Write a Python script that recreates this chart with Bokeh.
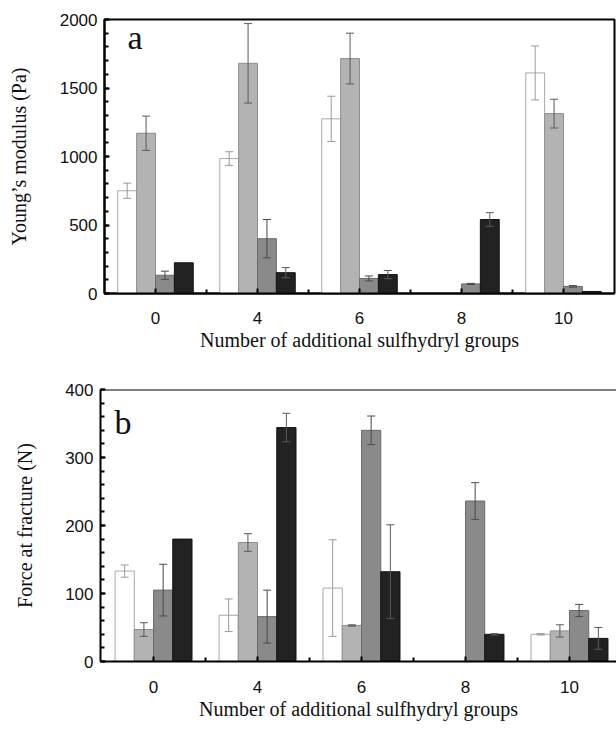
import numpy as np
from bokeh.plotting import figure
from bokeh.models import ColumnDataSource, Whisker, TeeHead, FixedTicker, Label, Span, Range1d
from bokeh.embed import file_html
from bokeh.resources import INLINE

# ---- data -------------------------------------------------------------
groups = ["0", "4", "6", "8", "10"]

# panel a : Young's modulus (Pa)
ym_s1 = [750, 985, 1275, 0, 1610]
ym_s1_err = [55, 50, 165, 0, 197]
ym_s2 = [1170, 1680, 1715, 0, 1313]
ym_s2_err = [125, 290, 185, 0, 105]
ym_s3 = [133, 400, 110, 70, 52]
ym_s3_err = [30, 140, 18, 4, 6]
ym_s4 = [224, 152, 138, 540, 15]
ym_s4_err = [0, 37, 30, 50, 0]

# panel b : Force at fracture (N)
ff_s1 = [133, 68, 108, 0, 40]
ff_s1_err = [9, 24, 71, 0, 1]
ff_s2 = [47, 175, 53, 0, 45]
ff_s2_err = [10, 13, 1, 0, 9]
ff_s3 = [105, 66, 340, 236, 75]
ff_s3_err = [38, 39, 21, 27, 9]
ff_s4 = [180, 344, 132, 40, 34]
ff_s4_err = [0, 21, 69, 1, 16]

fills = ["#ffffff", "#b3b3b3", "#8a8a8a", "#222222"]
edges = ["#a8a8a8", "#8e8e8e", "#6a6a6a", "#111111"]
errcols = ["#9a9a9a", "#5a5a5a", "#4a4a4a", "#5a5a5a"]
BAR_W = 0.185

SANS = "Liberation Sans"
SERIF = "Liberation Serif"


def make_panel(series, errs, ymax, yint, xr, fw, fh, left, top, right, ylabel,
               letter, lx, ly, outline, tick_standoff, label_standoff, ylabel_standoff):
    p = figure(frame_width=fw, frame_height=fh, x_range=Range1d(*xr), y_range=Range1d(0, ymax),
               output_backend="svg", toolbar_location=None,
               min_border_left=left, min_border_top=top, min_border_bottom=0,
               min_border_right=right)
    p.background_fill_color = "white"
    p.border_fill_color = "white"
    p.xgrid.visible = False
    p.ygrid.visible = False
    if outline:
        p.outline_line_color = "black"
        p.outline_line_width = 2
    else:
        p.outline_line_color = None
        p.add_layout(Span(location=ymax, dimension="width", line_color="black", line_width=2))

    idx = np.arange(len(groups))
    n = len(series)
    for k in range(n):
        off = (k - (n - 1) / 2) * BAR_W
        vals = np.array(series[k], dtype=float)
        er = np.array(errs[k], dtype=float)
        x = idx + off
        p.vbar(x=x, top=vals, bottom=0, width=BAR_W, fill_color=fills[k],
               line_color=edges[k], line_width=1)
        m = er > 0
        src = ColumnDataSource(dict(x=x[m], lo=(vals - er)[m], hi=(vals + er)[m]))
        w = Whisker(base="x", lower="lo", upper="hi", source=src, level="overlay",
                    line_color=errcols[k], line_width=1,
                    upper_head=TeeHead(size=8, line_color=errcols[k], line_width=1),
                    lower_head=TeeHead(size=8, line_color=errcols[k], line_width=1))
        p.add_layout(w)

    # x axis
    xa = p.xaxis[0]
    xa.ticker = FixedTicker(ticks=list(idx), minor_ticks=[0.5, 1.5, 2.5, 3.5])
    xa.major_label_overrides = {int(i): g for i, g in zip(idx, groups)}
    xa.axis_label = "Number of additional sulfhydryl groups"
    # y axis
    ya = p.yaxis[0]
    ya.ticker = FixedTicker(ticks=list(range(0, ymax + 1, yint)),
                            minor_ticks=list(range(0, ymax + 1, yint // 5)))
    ya.axis_label = ylabel

    for ax in (xa, ya):
        ax.axis_line_color = "black"
        ax.axis_line_width = 2
        ax.major_tick_in = 5
        ax.major_tick_out = 0
        ax.minor_tick_in = 4
        ax.minor_tick_out = 0
        ax.major_tick_line_width = 2
        ax.minor_tick_line_width = 2
        ax.major_tick_line_color = "black"
        ax.minor_tick_line_color = "black"
        ax.major_label_text_font = SANS
        ax.major_label_text_font_size = "17px"
        ax.major_label_text_color = "#111111"
        ax.axis_label_text_font = SERIF
        ax.axis_label_text_font_style = "normal"
        ax.axis_label_text_font_size = "20px"
        ax.axis_label_text_color = "#111111"
    xa.major_label_standoff = tick_standoff
    xa.axis_label_standoff = label_standoff
    ya.major_label_standoff = 7
    ya.axis_label_standoff = ylabel_standoff

    p.add_layout(Label(x=lx, y=ly, text=letter, text_font=SERIF, text_font_size="34px",
                       text_color="#111111", text_baseline="alphabetic", text_align="left"))
    return p


pa = make_panel([ym_s1, ym_s2, ym_s3, ym_s4], [ym_s1_err, ym_s2_err, ym_s3_err, ym_s4_err],
                2000, 500, (-0.5, 4.5), 510, 274, 104, 19, 2, "Young\u2019s modulus (Pa)",
                "a", -0.275, 1868, True, 18, 2, 27)
pa.height = 355

pb = make_panel([ff_s1, ff_s2, ff_s3, ff_s4], [ff_s1_err, ff_s2_err, ff_s3_err, ff_s4_err],
                400, 100, (-0.51, 4.452), 516, 272, 100, 36, 0, "Force at fracture (N)",
                "b", -0.375, 351, False, 19, 2, 26)

open("out.html", "w").write(file_html([pa, pb], INLINE))
